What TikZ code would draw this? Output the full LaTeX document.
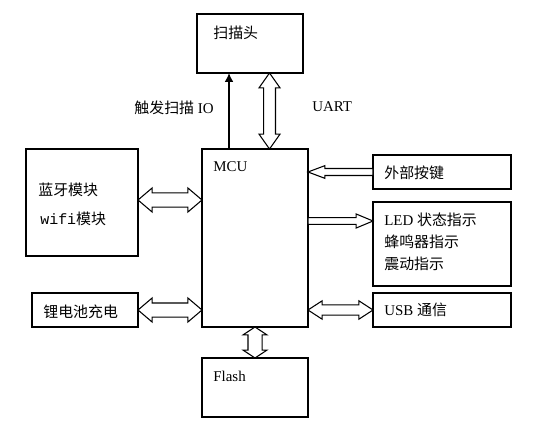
\documentclass[tikz,border=0pt]{standalone}
\usepackage{fontspec}
\setmainfont{Liberation Serif}
\newfontfamily\cjk{Noto Sans CJK SC}
\newfontfamily\mono{Liberation Mono}
\usetikzlibrary{arrows.meta,calc}

\tikzset{
  box/.style={draw, line width=0.6pt, inner sep=0pt, outer sep=0pt},
  lbl/.style={anchor=west, inner sep=0pt, font=\fontsize{8.5}{12.5}\selectfont},
  hollow/.style={draw, line width=0.6pt, fill=white, line join=miter},
}

% hollow double arrow, left-right: from, to, shaft, head, head length
\newcommand{\hdbl}[5]{%
  \draw[hollow] let \p1=(#1), \p2=(#2) in
    (\x1,\y1) -- (\x1+#5,\y1+#4) -- (\x1+#5,\y1+#3) -- (\x2-#5,\y1+#3) -- (\x2-#5,\y1+#4) -- (\x2,\y1)
    -- (\x2-#5,\y1-#4) -- (\x2-#5,\y1-#3) -- (\x1+#5,\y1-#3) -- (\x1+#5,\y1-#4) -- cycle;}
% hollow double arrow, top-bottom
\newcommand{\vdbl}[5]{%
  \draw[hollow] let \p1=(#1), \p2=(#2) in
    (\x1,\y1) -- (\x1+#4,\y1-#5) -- (\x1+#3,\y1-#5) -- (\x1+#3,\y2+#5) -- (\x1+#4,\y2+#5) -- (\x1,\y2)
    -- (\x1-#4,\y2+#5) -- (\x1-#3,\y2+#5) -- (\x1-#3,\y1-#5) -- (\x1-#4,\y1-#5) -- cycle;}
% hollow single arrow, tip at the second point
\newcommand{\hsgl}[5]{%
  \draw[hollow] let \p1=(#1), \p2=(#2), \n1={sign(\x2-\x1)} in
    (\x1,\y1+#3) -- ({\x2-(\n1)*#5},\y1+#3) -- ({\x2-(\n1)*#5},\y1+#4) -- (\x2,\y1)
    -- ({\x2-(\n1)*#5},\y1-#4) -- ({\x2-(\n1)*#5},\y1-#3) -- (\x1,\y1-#3) -- cycle;}

\begin{document}
\begin{tikzpicture}[x=0.02cm, y=-0.02cm]
    \useasboundingbox (0,0) rectangle (546,435);

    % blocks
    \node[box, minimum width=2.12cm, minimum height=1.18cm] (scan) at (250,43.5) {};
    \node[box, minimum width=2.12cm, minimum height=3.56cm] (mcu) at (255,238) {};
    \node[box, minimum width=2.12cm, minimum height=1.18cm] (flash) at (255,387.5) {};
    \node[box, minimum width=2.24cm, minimum height=2.14cm] (wifi) at (82,202.5) {};
    \node[box, minimum width=2.12cm, minimum height=0.68cm] (batt) at (85,310) {};
    \node[box, minimum width=2.76cm, minimum height=0.68cm] (key) at (442,172) {};
    \node[box, minimum width=2.76cm, minimum height=1.68cm] (led) at (442,244) {};
    \node[box, minimum width=2.76cm, minimum height=0.68cm] (usb) at (442,310) {};

    % texts
    \node[lbl] (tscan) at (213,33) {\cjk 扫描头};
    \node[lbl] (tmcu) at (213,167) {MCU};
    \node[lbl] (tflash) at (213,376) {Flash};
    \node[lbl, anchor=east] (tio) at (214,108) {{\cjk 触发扫描} IO};
    \node[lbl] (tuart) at (312,107) {UART};
    \node[lbl] (tblue) at (38,190) {\cjk 蓝牙模块};
    \node[lbl] (twifi) at (40,219) {{\mono wifi}{\cjk 模块}};
    \node[lbl] (tbatt) at (43,312) {\cjk 锂电池充电};
    \node[lbl] (tkey) at (384,173) {\cjk 外部按键};
    \node[lbl, align=left] (tled) at (384,242) {LED {\cjk 状态指示}\\{\cjk 蜂鸣器指示}\\{\cjk 震动指示}};
    \node[lbl] (tusb) at (384,310) {USB {\cjk 通信}};

    % links
    \coordinate (io) at ($(mcu.north west)+(27,0)$);
    \draw[line width=1.2pt, -{Latex[length=5pt,width=5pt]}] (io) -- (io |- scan.south);
    \coordinate (uart) at ($(scan.south west)+(72.5,0)$);
    \vdbl{uart}{uart |- mcu.north}{3.4pt}{6pt}{8.5pt}
    \vdbl{mcu.south}{flash.north}{4pt}{6.8pt}{4.5pt}
    \coordinate (wout) at ($(wifi.east)+(0,-2.5)$);
    \hdbl{wout}{wout -| mcu.west}{4pt}{6.8pt}{8pt}
    \hdbl{batt.east}{batt.east -| mcu.west}{4pt}{6.8pt}{8pt}
    \hsgl{key.west}{key.west -| mcu.east}{2pt}{3.6pt}{9.6pt}
    \coordinate (ledin) at ($(led.north west)+(0,19)$);
    \hsgl{ledin -| mcu.east}{ledin}{1.9pt}{4pt}{9.6pt}
    \hdbl{mcu.east |- usb.west}{usb.west}{2.9pt}{5.2pt}{8pt}

\end{tikzpicture}
\end{document}
